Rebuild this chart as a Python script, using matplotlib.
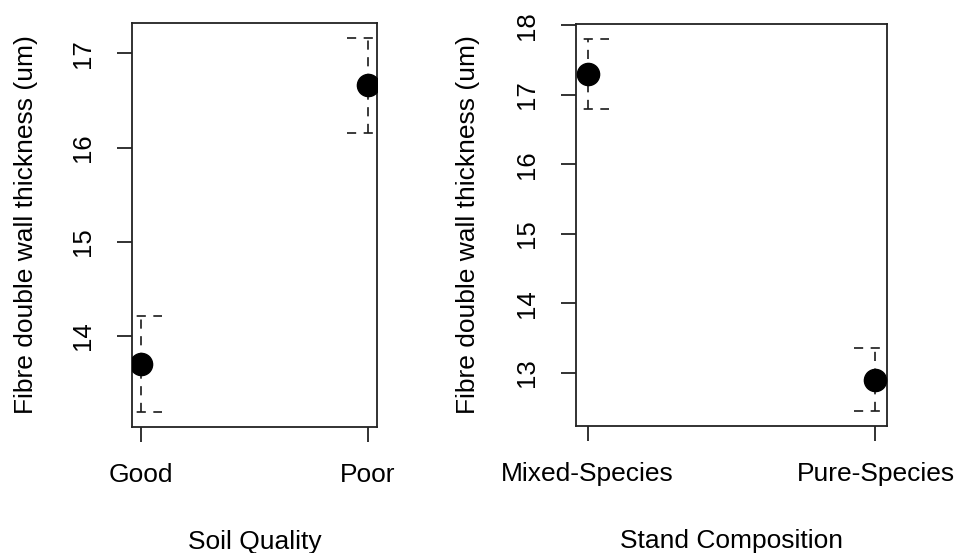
import matplotlib

matplotlib.use("Agg")

import matplotlib.pyplot as plt
import numpy as np

# group means and half-widths of the confidence intervals
SOIL_LEVELS = ["Good", "Poor"]
SOIL_MEANS = [13.70, 16.66]
SOIL_HALF_CI = [0.51, 0.505]

STAND_LEVELS = ["Mixed-Species", "Pure-Species"]
STAND_MEANS = [17.30, 12.90]
STAND_HALF_CI = [0.505, 0.455]

SOIL_TICKS = [14, 15, 16, 17]
STAND_TICKS = [13, 14, 15, 16, 17, 18]

Y_LABEL = "Fibre double wall thickness (um)"

plt.rcParams["font.family"] = ["Liberation Sans", "DejaVu Sans"]

DPI = 100
CAP_HALF_PX = 21
DASH = (0, (5.5, 4.5))
INK = "#1a1a1a"


def plot_means(ax, levels, means, half_ci, xlabel, yticks, ylabel_x):
    x = np.arange(1, len(levels) + 1)
    means = np.asarray(means, dtype=float)
    half = np.asarray(half_ci, dtype=float)
    lower, upper = means - half, means + half

    # same 4% padding as the usual base-graphics axis range
    xpad = 0.04 * (x.max() - x.min())
    ypad = 0.04 * (upper.max() - lower.min())
    ax.set_xlim(x.min() - xpad, x.max() + xpad)
    ax.set_ylim(lower.min() - ypad, upper.max() + ypad)

    # caps have a fixed on-screen width, so convert pixels to data units
    width_px = ax.get_position().width * ax.figure.get_figwidth() * DPI
    x0, x1 = ax.get_xlim()
    cap = CAP_HALF_PX * (x1 - x0) / width_px

    ax.vlines(x, lower, upper, colors=INK, linewidth=1.2, linestyles=[DASH])
    ax.hlines(upper, x - cap, x + cap, colors=INK, linewidth=1.2, linestyles=[DASH])
    ax.hlines(lower, x - cap, x + cap, colors=INK, linewidth=1.2, linestyles=[DASH])
    ax.plot(x, means, "o", color="black", markersize=16, zorder=3)

    ax.set_xticks(x)
    ax.set_xticklabels(levels, fontsize=19)
    ax.set_yticks(yticks)
    ax.tick_params(axis="both", direction="out", length=11, width=1.3, color="#222222")
    ax.tick_params(axis="x", pad=15)
    ax.tick_params(axis="y", labelsize=18.5, labelrotation=90, pad=15.5)
    for label in ax.get_yticklabels():
        label.set_verticalalignment("center")

    for spine in ax.spines.values():
        spine.set_linewidth(1.3)
        spine.set_color("#222222")

    ax.set_xlabel(xlabel, fontsize=19)
    ax.set_ylabel(Y_LABEL, fontsize=19)
    ax.xaxis.set_label_coords(0.5, -0.255)
    ax.yaxis.set_label_coords(ylabel_x, 0.5)


fig = plt.figure(figsize=(9.57, 5.53), dpi=DPI)
ax_soil = fig.add_axes([132 / 957, 1 - 427 / 553, 245 / 957, 404 / 553])
ax_stand = fig.add_axes([576 / 957, 1 - 426 / 553, 311 / 957, 402 / 553])

plot_means(ax_soil, SOIL_LEVELS, SOIL_MEANS, SOIL_HALF_CI, "Soil Quality", SOIL_TICKS, -0.384)
plot_means(ax_stand, STAND_LEVELS, STAND_MEANS, STAND_HALF_CI, "Stand Composition", STAND_TICKS, -0.309)

fig.savefig("out.png", dpi=DPI)
plt.close(fig)
